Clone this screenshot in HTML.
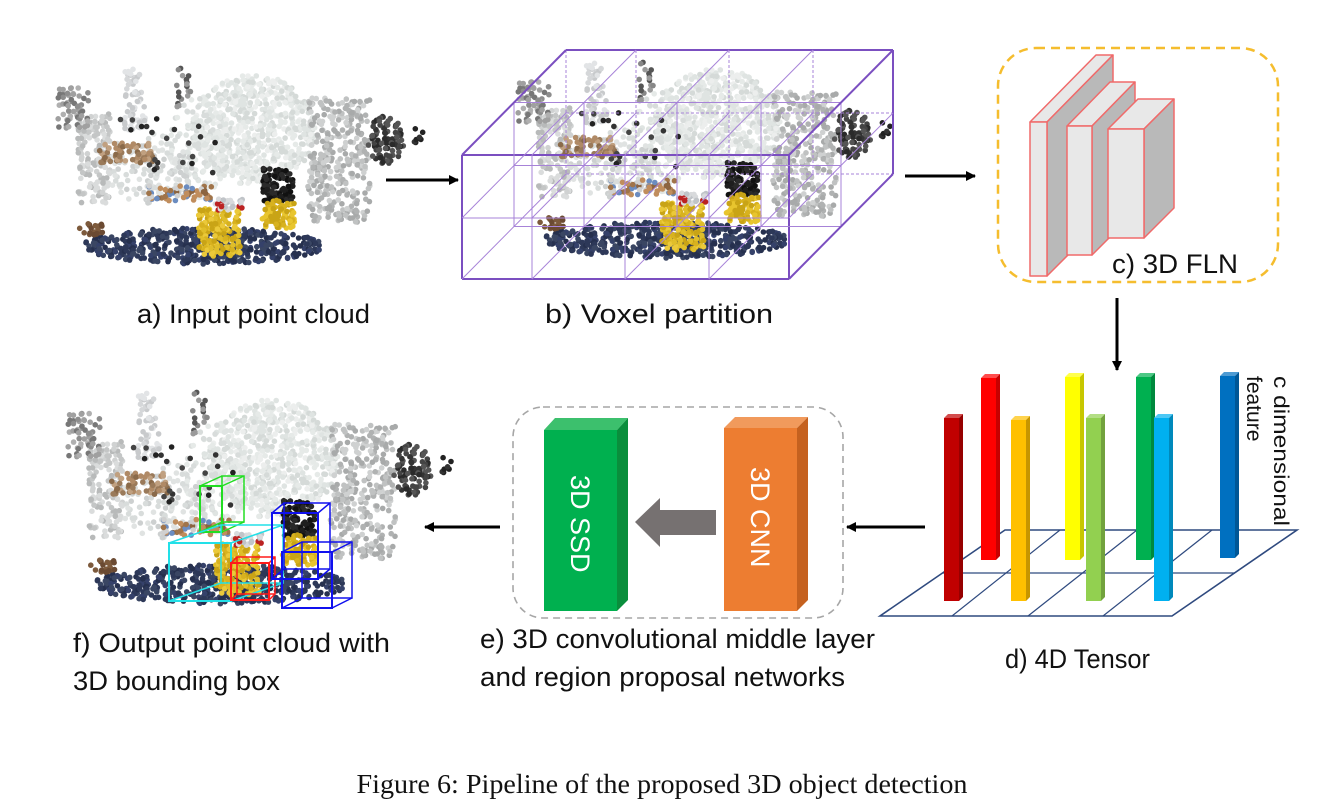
<!DOCTYPE html>
<html><head><meta charset="utf-8"><style>
html,body{margin:0;padding:0;background:#fff;width:1339px;height:810px;overflow:hidden}
svg{display:block}
.l{font-family:"Liberation Sans",sans-serif;font-size:27px;fill:#111}
</style></head><body>
<svg id="s" width="1339" height="810" viewBox="0 0 1339 810" xmlns="http://www.w3.org/2000/svg">
<defs>
<marker id="ah" markerWidth="10" markerHeight="10" refX="9" refY="5" orient="auto" markerUnits="userSpaceOnUse"><path d="M0,0 L10,5 L0,10 z" fill="#000"/></marker>
</defs>
<g id="clouds"></g>
<g id="vox" fill="none"></g>
<line x1="386" y1="180" x2="458" y2="180" stroke="#000" stroke-width="3" marker-end="url(#ah)"/>
<line x1="905" y1="176" x2="975" y2="176" stroke="#000" stroke-width="3" marker-end="url(#ah)"/>
<line x1="1117" y1="298" x2="1117" y2="370" stroke="#000" stroke-width="3" marker-end="url(#ah)"/>
<line x1="925" y1="527" x2="847" y2="527" stroke="#000" stroke-width="3" marker-end="url(#ah)"/>
<line x1="500" y1="527" x2="425" y2="527" stroke="#000" stroke-width="3" marker-end="url(#ah)"/>
<rect x="998" y="48" width="280" height="234" rx="38" fill="none" stroke="#f5bd2e" stroke-width="2.5" stroke-dasharray="9,6"/>
<g stroke="#f06a6a" stroke-width="1.5" stroke-linejoin="round">
<polygon points="1030,122 1047,122 1113,55 1096,55" fill="#e8e8e8"/>
<polygon points="1047,122 1113,55 1113,210 1047,276" fill="#b9b9b9"/>
<rect x="1030" y="122" width="17" height="154" fill="#e8e8e8"/>
<polygon points="1067,126 1092,126 1135,82 1110,82" fill="#e8e8e8"/>
<polygon points="1092,126 1135,82 1135,212 1092,255" fill="#b9b9b9"/>
<rect x="1067" y="126" width="25" height="129" fill="#e8e8e8"/>
<polygon points="1108,129 1144,129 1174,99 1138,99" fill="#e8e8e8"/>
<polygon points="1144,129 1174,99 1174,208 1144,238" fill="#b9b9b9"/>
<rect x="1108" y="129" width="36" height="109" fill="#e8e8e8"/>
</g>
<g stroke="#2f4a7f" stroke-width="1.6" fill="none">
<polygon points="880,616 1172,616 1297,530 1005,530"/>
<line x1="943" y1="573" x2="1235" y2="573" stroke-width="1.2"/>
<line x1="952" y1="616" x2="1060" y2="530" stroke-width="1.2"/>
<line x1="1028" y1="616" x2="1137" y2="530" stroke-width="1.2"/>
<line x1="1103" y1="616" x2="1212" y2="530" stroke-width="1.2"/>
</g>
<g id="bars"></g>
<text transform="translate(1274,376) rotate(90)" style="font-family:'Liberation Sans',sans-serif;font-size:21px;fill:#111" textLength="150" lengthAdjust="spacingAndGlyphs">c dimensional</text>
<text transform="translate(1247,376) rotate(90)" style="font-family:'Liberation Sans',sans-serif;font-size:21px;fill:#111">feature</text>
<rect x="513" y="407" width="330" height="211" rx="30" fill="none" stroke="#a6a6a6" stroke-width="1.6" stroke-dasharray="7,5"/>
<polygon points="544,430 555,418 628,418 617,430" fill="#3cc06d"/>
<polygon points="617,430 628,418 628,600 617,611" fill="#0a8e3c"/>
<rect x="544" y="430" width="73" height="181" fill="#00b04f"/>
<polygon points="724,428 735,417 808,417 797,428" fill="#f19a5c"/>
<polygon points="797,428 808,417 808,600 797,611" fill="#c5611f"/>
<rect x="724" y="428" width="73" height="183" fill="#ed7d31"/>
<text transform="translate(571,475) rotate(90)" style="font-family:'Liberation Sans',sans-serif;font-size:27px;fill:#fff">3D SSD</text>
<text transform="translate(751,467) rotate(90)" style="font-family:'Liberation Sans',sans-serif;font-size:27px;fill:#fff">3D CNN</text>
<polygon points="635,522 660,498 660,510 716,510 716,535 660,535 660,547" fill="#767171"/>
<g id="fb" fill="none" stroke-width="2"></g>
<text class="l" x="137" y="323" textLength="233" lengthAdjust="spacingAndGlyphs">a) Input point cloud</text>
<text class="l" x="545" y="323" textLength="228" lengthAdjust="spacingAndGlyphs">b) Voxel partition</text>
<text class="l" x="1112" y="273" textLength="126" lengthAdjust="spacingAndGlyphs">c) 3D FLN</text>
<text class="l" x="1005" y="668" textLength="145" lengthAdjust="spacingAndGlyphs">d) 4D Tensor</text>
<text class="l" x="480" y="648" textLength="395" lengthAdjust="spacingAndGlyphs">e) 3D convolutional middle layer</text>
<text class="l" x="480" y="686" textLength="365" lengthAdjust="spacingAndGlyphs">and region proposal networks</text>
<text class="l" x="73" y="652" textLength="317" lengthAdjust="spacingAndGlyphs">f) Output point cloud with</text>
<text class="l" x="73" y="690" textLength="207" lengthAdjust="spacingAndGlyphs">3D bounding box</text>
<text x="662" y="793" text-anchor="middle" textLength="611" lengthAdjust="spacingAndGlyphs" style="font-family:'Liberation Serif',serif;font-size:27px;fill:#111">Figure 6: Pipeline of the proposed 3D object detection</text>
</svg>
<script>
var NS="http://www.w3.org/2000/svg";
function el(p,t,a){var e=document.createElementNS(NS,t);for(var k in a)e.setAttribute(k,a[k]);p.appendChild(e);return e;}
var seed=7;function R(){seed=(seed*1103515245+12345)%2147483648;return seed/2147483648;}
var comps=[
 ['r',20,45,32,90,150,['#d0d2d2','#c4c6c6','#dadcdc','#b8baba']],
 ['r',0,20,32,42,55,['#8d8d8d','#a0a0a0','#777','#b0b0b0']],
 ['r',66,0,22,65,60,['#e2e4e6','#d5d7d9','#c8cacc']],
 ['r',118,0,15,40,18,['#9a9a9a','#555','#888']],
 ['e',195,62,62,55,700,['#dfe4e2','#e6eae8','#d5dad8','#eceeed']],
 ['e',140,80,30,50,130,['#dfe4e2','#e6eae8','#d8dcdb']],
 ['e',90,100,45,35,120,['#d8dcdb','#e0e3e2','#cdd0d0']],
 ['r',250,30,62,125,340,['#c0c2c2','#b0b2b2','#cfd1d1','#a8aaaa']],
 ['e',328,72,18,24,90,['#333','#2a2a2a','#444','#555']],
 ['r',355,60,10,25,8,['#222','#333']],
 ['r',40,75,55,20,60,['#9a7a5a','#b08a66','#8a6a4a','#c0a080']],
 ['r',90,118,65,15,60,['#a0744a','#8c6440','#c08d5d','#6b8cc0','#d0d0d0']],
 ['e',145,178,120,18,520,['#2d3858','#26304e','#35416a','#3a4663']],
 ['r',20,155,25,12,20,['#6b4a32','#7d5a3c']],
 ['r',140,140,42,48,170,['#d8b21f','#e0be2a','#c9a416','#ebc93a']],
 ['r',155,130,30,12,25,['#c0c4c8','#d8dadc','#b22']],
 ['r',205,100,30,35,90,['#1e1e1e','#2a2a2a','#111']],
 ['r',203,132,34,28,80,['#d8b21f','#e8c52e','#c9a416']],
 ['r',60,50,100,60,22,['#222','#333','#444']]
];
function cloud(ox,oy,sx,sy){
 var g=document.getElementById('clouds');seed=7;
 comps.forEach(function(c){for(var i=0;i<c[5];i++){var x,y;
  if(c[0]=='r'){x=c[1]+R()*c[3];y=c[2]+R()*c[4];}
  else{var a=R()*6.283,r=Math.sqrt(R());x=c[1]+Math.cos(a)*r*c[3];y=c[2]+Math.sin(a)*r*c[4];}
  el(g,'circle',{cx:(ox+x*sx).toFixed(1),cy:(oy+y*sy).toFixed(1),r:2.8,fill:c[6][Math.floor(R()*c[6].length)]});}});
}
cloud(58,68,1,1);
cloud(518,62,1.02,1);
cloud(68,392,1.05,1.08);
var v=document.getElementById('vox');
var xs=[462,532,625,709,789],ys=[155,218,279],ds=[0,0.5,1],DX=104,DY=-105;
function L(x1,y1,x2,y2,w,c,da){var a={x1:x1,y1:y1,x2:x2,y2:y2,stroke:c,'stroke-width':w};if(da)a['stroke-dasharray']=da;el(v,'line',a);}
var thin='#a783d8',thick='#7b4fc0';
ds.forEach(function(d){var ox=DX*d,oy=DY*d;var dash=d==1?'3,2':null;
 ys.forEach(function(y,j){var edge=(d==0&&(j==0||j==2))||(d==1&&j==0);L(xs[0]+ox,y+oy,xs[4]+ox,y+oy,edge?2:1,edge?thick:thin,edge?null:dash);});
 xs.forEach(function(x,i){var edge=(d==0&&(i==0||i==4))||(d==1&&i==4);L(x+ox,ys[0]+oy,x+ox,ys[2]+oy,edge?2:1,edge?thick:thin,edge?null:dash);});
});
xs.forEach(function(x,i){ys.forEach(function(y,j){var edge=(i==0&&j==0)||(i==4&&j==0)||(i==4&&j==2);L(x,y,x+DX,y+DY,edge?2:1,edge?thick:thin);});});
var b=document.getElementById('bars');
var bars=[[944,418,601,'#c00000'],[981,378,560,'#ff0000'],[1011,420,601,'#ffc000'],[1065,377,560,'#ffff00'],[1086,418,601,'#92d050'],[1136,377,560,'#00b050'],[1154,418,601,'#00b0f0'],[1220,376,558,'#0070c0']];
function shade(c,f){var n=parseInt(c.slice(1),16),r=n>>16,g=(n>>8)&255,bl=n&255;function s(v){return Math.max(0,Math.min(255,Math.round(f<1?v*f:v+(255-v)*(f-1))));}return 'rgb('+s(r)+','+s(g)+','+s(bl)+')';}
bars.forEach(function(q){var x=q[0],t=q[1],bt=q[2],c=q[3];
 el(b,'polygon',{points:(x)+','+(t)+' '+(x+4)+','+(t-4)+' '+(x+19)+','+(t-4)+' '+(x+15)+','+t,fill:shade(c,1.3)});
 el(b,'polygon',{points:(x+15)+','+t+' '+(x+19)+','+(t-4)+' '+(x+19)+','+(bt-4)+' '+(x+15)+','+bt,fill:shade(c,0.78)});
 el(b,'rect',{x:x,y:t,width:15,height:bt-t,fill:c});});
var fb=document.getElementById('fb');
function box(x,y,w,h,dx,dy,c){
 el(fb,'rect',{x:x+dx,y:y+dy,width:w,height:h,stroke:c,'stroke-width':1.5});
 el(fb,'rect',{x:x,y:y,width:w,height:h,stroke:c});
 [[x,y],[x+w,y],[x,y+h],[x+w,y+h]].forEach(function(q){el(fb,'line',{x1:q[0],y1:q[1],x2:q[0]+dx,y2:q[1]+dy,stroke:c,'stroke-width':1.5});});}
box(200,486,22,46,22,-10,'#22dd22');
box(169,543,62,58,52,-18,'#22e0e8');
box(231,563,38,37,6,-6,'#ff1a1a');
box(272,513,46,66,12,-10,'#1010ee');
box(282,552,50,56,20,-10,'#1010ee');
</script>
</body></html>
